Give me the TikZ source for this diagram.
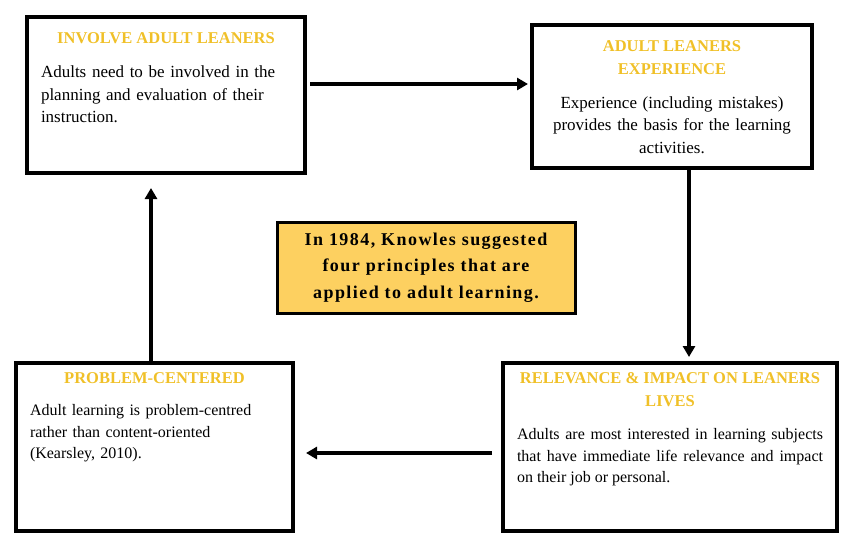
\documentclass[tikz,border=0pt]{standalone}
\usepackage{fontspec}
\setmainfont{Liberation Serif}
\newfontfamily\spacedserif[LetterSpace=8]{Liberation Serif}
\usetikzlibrary{positioning,arrows.meta}
\definecolor{headgold}{RGB}{240,192,40}
\definecolor{notefill}{RGB}{253,208,96}

\begin{document}
\begin{tikzpicture}[x=1pt,y=-1pt,
  box/.style 2 args={draw,line width=3.5pt,outer sep=0pt,minimum width=#1pt,minimum height=#2pt},
  head/.style={text=headgold,font=\fontsize{16.5}{23}\selectfont\bfseries,align=center,inner sep=0pt},
  body/.style={inner sep=0pt,font=\fontsize{17}{22.5}\selectfont},
  smallbody/.style={inner sep=0pt,font=\fontsize{16}{21.5}\selectfont},
  arr/.style={line width=3.2pt,-{Triangle[length=11pt,width=12pt]}}]
  \useasboundingbox (0,0) rectangle (842,533);

  \node[box={278}{156}] (involve) at (166,95) {};
  \node[head,below=15pt of involve.north] (involvehead) {INVOLVE ADULT LEANERS};
  \node[body,text width=250pt,align=left,below=22pt of involvehead] (involvetext) {Adults need to be involved in the\\planning and evaluation of their\\instruction.};

  \node[box={280}{143}] (experience) at (672,96.5) {};
  \node[head,below=15pt of experience.north] (experiencehead) {ADULT LEANERS\\EXPERIENCE};
  \node[body,text width=262pt,align=center,below=22pt of experiencehead] (experiencetext) {Experience (including mistakes)\\provides the basis for the learning\\activities.};

  \node[box={277}{168}] (problem) at (154.5,447) {};
  \node[head,below=9pt of problem.north] (problemhead) {PROBLEM-CENTERED};
  \node[smallbody,text width=249pt,align=left,below=21pt of problemhead] (problemtext) {Adult learning is problem-centred\\rather than content-oriented\\(Kearsley, 2010).};

  \node[box={334}{168}] (relevance) at (670,447) {};
  \node[head,below=9pt of relevance.north] (relevancehead) {RELEVANCE \& IMPACT ON LEANERS\\LIVES};
  \node[smallbody,text width=306pt,align=justify,below=22pt of relevancehead] (relevancetext) {Adults are most interested in learning subjects\linebreak that have immediate life relevance and impact\linebreak on their job or personal.};

  \node[box={298}{91},line width=3pt,fill=notefill,align=center,font=\fontsize{18}{26.5}\spacedserif\bfseries] (knowles) at (426,267.5) {In 1984, Knowles suggested\\four principles that are\\applied to adult learning.};

  \draw[arr] ([xshift=5pt,yshift=11pt]involve.east) -- ([xshift=-4pt,yshift=12.5pt]experience.west);
  \draw[arr] ([xshift=17pt,yshift=-2pt]experience.south) -- ([xshift=19pt,yshift=6pt]relevance.north);
  \draw[arr] ([xshift=-11pt,yshift=-6pt]relevance.west) -- ([xshift=13pt,yshift=-6pt]problem.east);
  \draw[arr] ([xshift=-3.5pt]problem.north) -- ([xshift=-15pt,yshift=-15pt]involve.south);
\end{tikzpicture}
\end{document}
